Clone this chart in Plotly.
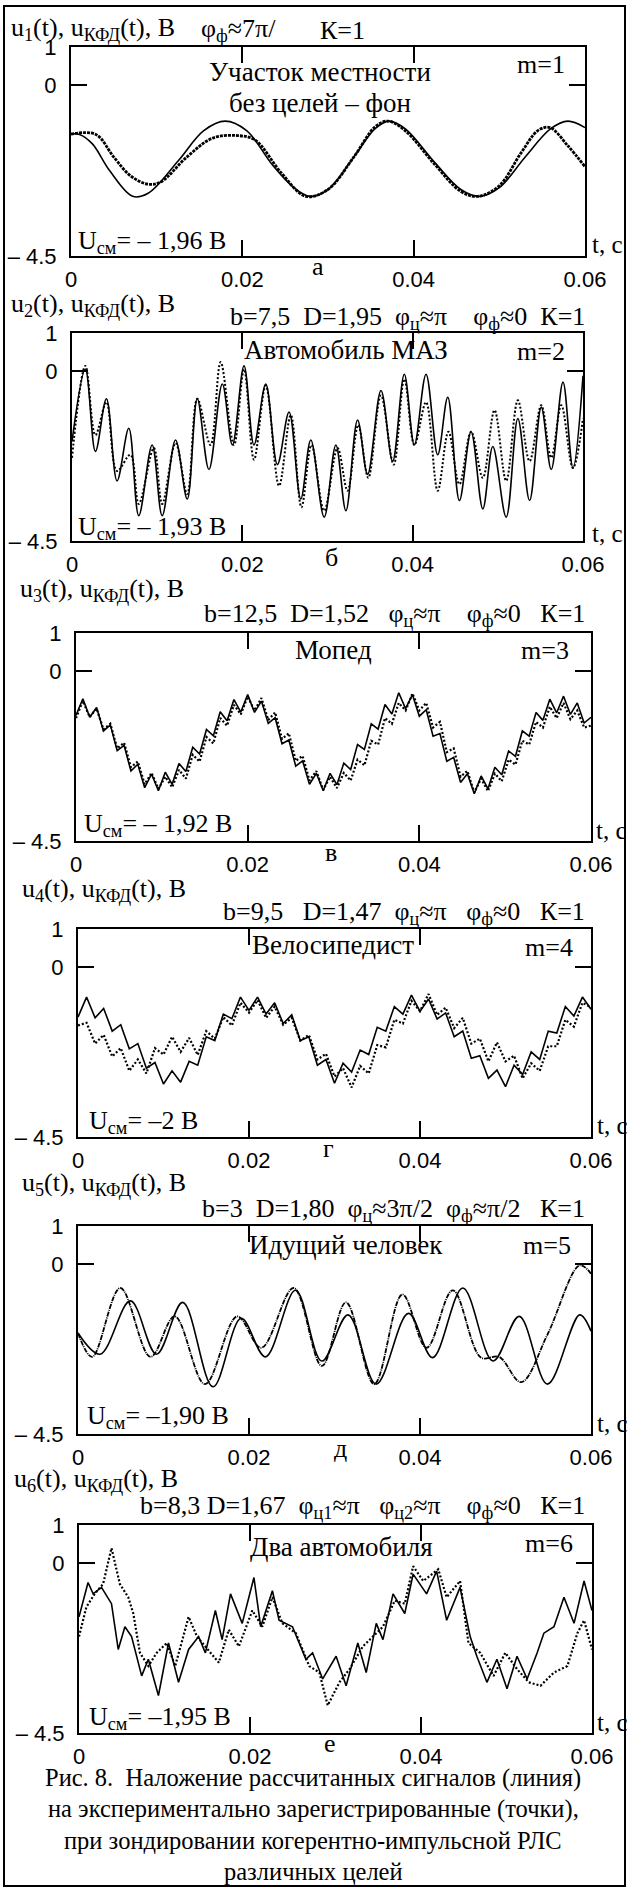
import plotly.graph_objects as go

W, H = 631, 1887
SERIF = "Liberation Serif, Times New Roman, serif"
SANS = "Liberation Sans, Arial, sans-serif"

# ---------------- data (time in ms, voltage in V) ----------------
# Panel 1 (а) - background
t1_calc = [0, 1.0, 2.5, 4.5, 7.2, 9.0, 12.5, 15.5, 18.0, 20.5, 23.5, 26.0, 27.9, 30.0, 33.0,
           35.5, 37.1, 39.0, 42.5, 45.5, 47.7, 50.0, 53.0, 56.0, 58.0, 60.0]
u1_calc = [-1.29, -1.30, -1.55, -2.25, -2.93, -2.85, -2.0, -1.2, -0.95, -1.2, -2.1, -2.7, -2.93, -2.75, -1.9,
           -1.15, -0.95, -1.15, -2.05, -2.75, -2.93, -2.7, -1.9, -1.15, -0.95, -1.12]
t1_exp = [0, 2.9, 5.0, 7.0, 9.0, 10.5, 13.5, 16.5, 19.4, 21.5, 24.5, 27.4, 30.0, 33.0, 35.5,
          37.0, 39.0, 42.5, 45.5, 47.5, 50.0, 52.5, 54.5, 55.9, 58.0, 60.0]
u1_exp = [-1.29, -1.30, -1.9, -2.4, -2.61, -2.55, -1.9, -1.4, -1.33, -1.45, -2.3, -2.93, -2.75, -1.9, -1.1,
          -0.95, -1.2, -2.1, -2.8, -2.93, -2.65, -1.8, -1.2, -1.12, -1.6, -2.15]

# Panel 2 (б) - МАЗ
t2_calc = [0, 1.57, 2.75, 4.04, 5.29, 6.67, 7.84, 9.41, 10.59, 12.16, 13.53, 14.71, 16.08, 17.65, 18.83,
           20.20, 21.37, 22.75, 24.12, 25.49, 26.86, 28.04, 29.61, 30.98, 32.16, 33.53, 34.71, 36.28, 37.65,
           39.02, 40.20, 41.57, 42.94, 44.12, 45.49, 46.86, 48.24, 49.41, 50.98, 52.35, 53.73, 55.10, 56.27,
           57.65, 58.82, 60.0]
u2_calc = [-1.87, 0.04, -2.13, -0.74, -2.91, -1.52, -3.83, -1.96, -3.83, -1.83, -3.39, -0.74, -2.61, -0.35, -1.96,
           0.13, -1.96, -0.35, -2.48, -1.09, -3.39, -1.83, -3.87, -1.96, -3.70, -1.30, -2.74, -0.52, -2.39,
           -0.09, -1.96, -0.09, -2.22, -0.70, -3.43, -1.61, -3.65, -2.00, -3.87, -1.26, -3.43, -0.96, -2.61,
           -0.30, -2.57, -0.13]
t2_exp = [0, 1.57, 2.75, 4.04, 5.29, 6.86, 7.84, 9.61, 10.59, 12.16, 13.53, 14.71, 16.27, 17.45, 19.02,
          20.20, 21.37, 22.75, 24.31, 25.69, 26.94, 28.12, 29.61, 31.18, 32.35, 33.61, 34.79, 36.28, 37.77,
          39.02, 40.20, 41.57, 42.94, 44.20, 45.49, 46.86, 48.24, 49.61, 50.98, 52.35, 53.73, 55.10, 56.27,
          57.45, 58.82, 60.0]
u2_exp = [-2.30, 0.13, -1.70, -0.83, -2.65, -2.22, -3.52, -2.04, -3.52, -1.91, -3.26, -0.74, -1.96, 0.23, -1.96,
          0.04, -2.35, -0.39, -3.04, -1.17, -3.61, -1.96, -3.70, -2.04, -3.17, -1.43, -2.83, -0.65, -2.48,
          -0.22, -1.96, -0.83, -3.17, -1.61, -3.00, -1.61, -2.83, -1.04, -2.91, -0.78, -2.39, -0.91, -2.30,
          -0.91, -2.57, -1.26]

# Panel 3 (в) - moped, sampled every 0.8 ms
t3_step = 0.8
u3_calc = [-1.18, -0.74, -1.23, -0.97, -1.59, -1.43, -2.11, -1.97, -2.65, -2.47,
           -3.09, -2.73, -3.17, -2.68, -3.00, -2.45, -2.66, -2.02, -2.20, -1.55,
           -1.72, -1.08, -1.32, -0.76, -1.09, -0.63, -1.10, -0.80, -1.39, -1.24,
           -1.93, -1.83, -2.52, -2.38, -3.00, -2.71, -3.17, -2.71, -3.01, -2.44,
           -2.61, -1.95, -2.08, -1.40, -1.54, -0.89, -1.14, -0.58, -1.00, -0.63,
           -1.20, -1.03, -1.73, -1.66, -2.39, -2.29, -2.95, -2.72, -3.25, -2.78,
           -3.12, -2.55, -2.75, -2.12, -2.26, -1.59, -1.73, -1.10, -1.31, -0.75,
           -1.11, -0.67, -1.15, -0.85, -1.38, -1.23]
u3_exp = [-1.25, -0.80, -1.22, -1.00, -1.55, -1.40, -2.05, -1.90, -2.55, -2.40,
          -3.00, -2.70, -3.12, -2.80, -3.08, -2.62, -2.85, -2.22, -2.40, -1.75,
          -1.92, -1.25, -1.45, -0.90, -1.15, -0.68, -1.05, -0.72, -1.30, -1.10,
          -1.80, -1.65, -2.38, -2.25, -2.90, -2.65, -3.15, -2.80, -3.10, -2.70,
          -2.90, -2.35, -2.50, -1.85, -1.95, -1.25, -1.40, -0.85, -1.05, -0.60,
          -1.05, -0.85, -1.50, -1.35, -2.15, -2.05, -2.80, -2.65, -3.22, -2.85,
          -3.18, -2.72, -2.92, -2.35, -2.48, -1.85, -1.95, -1.35, -1.50, -0.95,
          -1.25, -0.85, -1.28, -1.05, -1.50, -1.45]

# Panel 4 (г) - cyclist, sampled every 1 ms
t4_step = 1.0
u4_calc = [-1.33, -0.80, -1.35, -1.10, -1.70, -1.53, -2.17, -2.03, -2.68, -2.53,
           -3.10, -2.75, -3.05, -2.50, -2.60, -1.85, -1.95, -1.25, -1.37, -0.80,
           -1.15, -0.80, -1.25, -0.95, -1.50, -1.27, -1.95, -1.85, -2.60, -2.45,
           -3.08, -2.55, -2.78, -2.20, -2.32, -1.60, -1.70, -1.05, -1.25, -0.75,
           -1.18, -0.85, -1.38, -1.22, -1.85, -1.70, -2.42, -2.35, -2.95, -2.73,
           -3.17, -2.60, -2.85, -2.25, -2.45, -1.70, -1.75, -1.05, -1.30, -0.80,
           -1.12]
u4_exp = [-1.55, -1.48, -2.03, -1.80, -2.37, -2.15, -2.75, -2.45, -2.82, -2.15,
          -2.32, -1.85, -2.25, -1.88, -2.33, -1.70, -1.90, -1.33, -1.55, -0.95,
          -1.21, -0.88, -1.35, -1.05, -1.53, -1.35, -1.95, -1.80, -2.45, -2.30,
          -2.90, -2.68, -3.19, -2.62, -2.82, -2.07, -2.13, -1.40, -1.50, -0.90,
          -1.17, -0.72, -1.27, -1.08, -1.62, -1.35, -2.03, -1.90, -2.50, -2.00,
          -2.50, -2.35, -2.95, -2.55, -2.75, -2.10, -2.10, -1.40, -1.58, -0.95,
          -1.07]

# Panel 5 (д) - walking man
t5_calc = [0, 2.59, 6.13, 9.19, 12.25, 15.79, 19.09, 21.92, 25.45, 28.52, 31.58, 34.88, 38.65, 41.47,
           45.01, 48.54, 51.61, 54.91, 58.68, 60.0]
u5_calc = [-1.83, -2.39, -0.98, -2.39, -1.02, -3.25, -1.44, -2.46, -0.70, -2.57, -1.35, -3.18, -1.31, -2.48,
           -0.64, -2.57, -1.39, -3.18, -1.35, -1.78]
t5_exp = [0, 1.65, 4.95, 8.48, 11.31, 14.85, 18.62, 21.44, 25.21, 28.52, 31.34, 34.64, 37.94, 40.77,
          43.83, 47.13, 49.25, 51.84, 54.91, 58.68, 60.0]
u5_exp = [-1.83, -2.46, -0.64, -2.46, -1.39, -3.18, -1.39, -2.22, -0.64, -2.70, -1.02, -3.18, -0.81, -2.22,
          -0.70, -2.48, -2.46, -3.13, -1.87, -0.04, -0.26]

# Panel 6 (е) - two cars
t6_calc = [0, 1.06, 1.65, 2.63, 3.80, 4.59, 5.37, 6.15, 7.33, 8.11, 9.29, 10.47, 11.64, 12.82, 13.99,
           14.78, 15.95, 16.74, 17.72, 19.09, 20.46, 21.25, 22.62, 23.40, 24.97, 26.54, 27.32, 28.50,
           30.07, 31.24, 32.61, 33.59, 34.77, 35.55, 36.73, 38.10, 39.08, 40.65, 41.83, 43.00, 44.57,
           45.75, 46.53, 47.71, 48.88, 50.06, 51.23, 52.41, 53.59, 54.37, 55.55, 56.72, 57.90, 59.07, 60.0]
u6_calc = [-1.43, -0.52, -0.82, -0.65, -1.08, -2.29, -1.69, -1.95, -2.99, -2.55, -3.51, -2.12, -3.16, -2.29, -1.95,
           -2.38, -1.26, -2.03, -0.82, -1.60, -0.39, -1.69, -0.74, -1.52, -1.69, -2.55, -2.38, -3.07,
           -2.47, -3.25, -2.12, -2.90, -1.60, -2.03, -0.82, -1.34, -0.30, -0.82, -0.22, -1.52, -0.65,
           -1.95, -2.47, -3.16, -2.55, -3.33, -2.47, -3.07, -2.38, -1.86, -1.69, -0.91, -1.60, -0.48, -1.26]
t6_exp = [0, 0.86, 1.84, 2.82, 3.80, 4.78, 5.76, 6.35, 7.13, 8.11, 9.09, 10.27, 11.25, 12.82, 13.80,
          14.78, 16.35, 17.52, 18.70, 20.27, 21.44, 22.62, 23.79, 25.36, 26.93, 28.11, 29.09, 30.46,
          31.64, 33.20, 34.38, 35.55, 36.93, 38.10, 39.08, 40.26, 42.02, 43.00, 44.57, 45.55, 46.92,
          48.49, 49.86, 51.23, 52.61, 53.98, 55.55, 57.12, 58.29, 59.07, 60.0]
u6_exp = [-1.95, -1.17, -0.82, -0.56, 0.39, -0.56, -0.91, -1.34, -2.38, -2.73, -2.38, -2.12, -2.73, -1.43, -1.95,
          -2.21, -2.64, -1.77, -2.21, -1.26, -1.69, -0.91, -1.60, -1.86, -2.73, -2.90, -3.77, -3.16,
          -2.81, -2.21, -1.95, -1.69, -1.00, -1.08, -0.09, -0.48, -0.17, -0.91, -0.48, -2.12, -2.38,
          -2.99, -2.38, -2.81, -3.16, -3.25, -2.90, -2.73, -1.86, -1.52, -2.29]

x_tickvals = [0, 0.02, 0.04, 0.06]
x_ticktext = ["0", "0.02", "0.04", "0.06"]
y_tickvals = [1, 0, -4.5]
y_ticktext = ["1", "0", "\u2013 4.5"]

t3_times = [i * t3_step for i in range(len(u3_calc))]
t4_times = [i * t4_step for i in range(len(u4_calc))]

series = [
    (t1_calc, u1_calc, t1_exp, u1_exp, "spline", dict(width=2.8, dash="3px,1px")),
    (t2_calc, u2_calc, t2_exp, u2_exp, "spline", dict(width=2.0, dash="2px,2px")),
    (t3_times, u3_calc, t3_times, u3_exp, "linear", dict(width=2.2, dash="2px,2px")),
    (t4_times, u4_calc, t4_times, u4_exp, "linear", dict(width=2.2, dash="2px,2px")),
    (t5_calc, u5_calc, t5_exp, u5_exp, "spline", dict(width=1.8, dash="5px,1px,1px,1px")),
    (t6_calc, u6_calc, t6_exp, u6_exp, "linear", dict(width=2.2, dash="2px,2px")),
]

# plot boxes in pixels: left, right, top, bottom
boxes = [(71, 585, 47, 256), (72, 583, 333, 541), (76, 591, 633, 841),
         (78, 591, 929, 1137), (78, 591, 1226, 1434), (79, 592, 1525, 1733)]

fig = go.Figure()
layout = {}
for i, ((tc, uc, te, ue, shape, exp_style), (l, r, t, b)) in enumerate(zip(series, boxes)):
    k = "" if i == 0 else str(i + 1)
    fig.add_trace(go.Scatter(
        x=[v / 1000 for v in te], y=ue, xaxis="x" + k, yaxis="y" + k, mode="lines",
        line=dict(color="black", width=exp_style["width"], dash=exp_style["dash"], shape=shape),
        hoverinfo="skip", showlegend=False))
    fig.add_trace(go.Scatter(
        x=[v / 1000 for v in tc], y=uc, xaxis="x" + k, yaxis="y" + k, mode="lines",
        line=dict(color="black", width=1.6, shape=shape),
        hoverinfo="skip", showlegend=False))
    common = dict(showline=True, linewidth=2, linecolor="black", mirror="ticks",
                  ticks="inside", ticklen=16, tickwidth=2, tickcolor="black",
                  showgrid=False, zeroline=False, fixedrange=True, automargin=False,
                  tickfont=dict(family=SANS, size=22, color="black"))
    layout["xaxis" + k] = dict(domain=[l / W, r / W], anchor="y" + k, range=[0, 0.06],
                               tickmode="array", tickvals=x_tickvals, ticktext=x_ticktext,
                               ticklabelstandoff=3, **common)
    layout["yaxis" + k] = dict(domain=[1 - b / H, 1 - t / H], anchor="x" + k, range=[-4.5, 1],
                               tickmode="array", tickvals=y_tickvals, ticktext=y_ticktext,
                               ticklabelstandoff=8, **common)

NB = "\u00a0"
ann = []


def txt(x, y, s, xanchor="left", size=26, family=SERIF):
    ann.append(dict(x=x / W, y=1 - y / H, xref="paper", yref="paper", text=s.replace("  ", NB + NB),
                    showarrow=False, xanchor=xanchor, yanchor="middle",
                    font=dict(family=family, size=size, color="black")))


ylabels = [(9, 29, "1"), (9, 305, "2"), (18, 590, "3"), (20, 890, "4"), (20, 1184, "5"), (12, 1480, "6")]
for x, y, n in ylabels:
    txt(x, y, "u<sub>%s</sub>(t), u<sub>КФД</sub>(t), В" % n)

txt(199, 30, "φ<sub>ф</sub>≈7π/")
txt(318, 30, "К=1")
params = [
    (318, "b=7,5  D=1,95  φ<sub>ц</sub>≈π    φ<sub>ф</sub>≈0  К=1"),
    (615, "b=12,5  D=1,52   φ<sub>ц</sub>≈π    φ<sub>ф</sub>≈0   К=1"),
    (913, "b=9,5   D=1,47  φ<sub>ц</sub>≈π   φ<sub>ф</sub>≈0   К=1"),
    (1210, "b=3  D=1,80  φ<sub>ц</sub>≈3π/2  φ<sub>ф</sub>≈π/2   К=1"),
    (1507, "b=8,3 D=1,67  φ<sub>ц1</sub>≈π   φ<sub>ц2</sub>≈π    φ<sub>ф</sub>≈0   К=1"),
]
for y, s in params:
    txt(587, y, s, xanchor="right")

names = [(320, 72, "Участок местности"), (320, 103, "без целей – фон"), (346, 350, "Автомобиль МАЗ"),
         (333, 650, "Мопед"), (333, 945, "Велосипедист"), (346, 1245, "Идущий человек"),
         (341, 1547, "Два автомобиля")]
for x, y, s in names:
    txt(x, y, s, xanchor="center", size=27)

ms = [(515, 65), (515, 352), (519, 650), (523, 948), (521, 1245), (523, 1543)]
for j, (x, y) in enumerate(ms):
    txt(x, y, "m=%d" % (j + 1))

ucm = [(76, 242, "– 1,96 В"), (76, 528, "– 1,93 В"), (82, 825, "– 1,92 В"),
       (87, 1122, "–2 В"), (85, 1417, "–1,90 В"), (87, 1718, "–1,95 В")]
for x, y, s in ucm:
    txt(x, y, "U<sub>см</sub>= " + s)

tc_pos = [(590, 245), (590, 533), (594, 830), (595, 1125), (595, 1423), (595, 1722)]
for x, y in tc_pos:
    txt(x, y, "t, с", size=25)

letters = [(318, 267, "а"), (331, 557, "б"), (331, 852, "в"), (329, 1148, "г"), (340, 1448, "д"), (330, 1743, "е")]
for x, y, s in letters:
    txt(x, y, s, xanchor="center")

caption = ["Рис. 8.  Наложение рассчитанных сигналов (линия)",
           "на экспериментально зарегистрированные (точки),",
           "при зондировании когерентно-импульсной РЛС",
           "различных целей"]
for j, s in enumerate(caption):
    txt(313, 1778 + 31 * j, s, xanchor="center", size=24.5)

fig.update_layout(
    width=W, height=H, margin=dict(l=0, r=0, t=0, b=0, pad=0, autoexpand=False),
    paper_bgcolor="white", plot_bgcolor="white",
    showlegend=False, annotations=ann,
    shapes=[dict(type="rect", xref="paper", yref="paper", x0=4 / W, x1=625 / W,
                 y0=1 - 1886 / H, y1=1 - 6 / H, line=dict(color="black", width=2))],
    **layout)

fig.write_html("out.html", include_plotlyjs=True, config={"displayModeBar": False, "staticPlot": True})

# remove default page margins so the figure sits at the window origin
with open("out.html", "r", encoding="utf-8") as f:
    html = f.read()
html = html.replace("<head>", "<head><style>html,body{margin:0;padding:0;overflow:hidden;}</style>", 1)
with open("out.html", "w", encoding="utf-8") as f:
    f.write(html)
